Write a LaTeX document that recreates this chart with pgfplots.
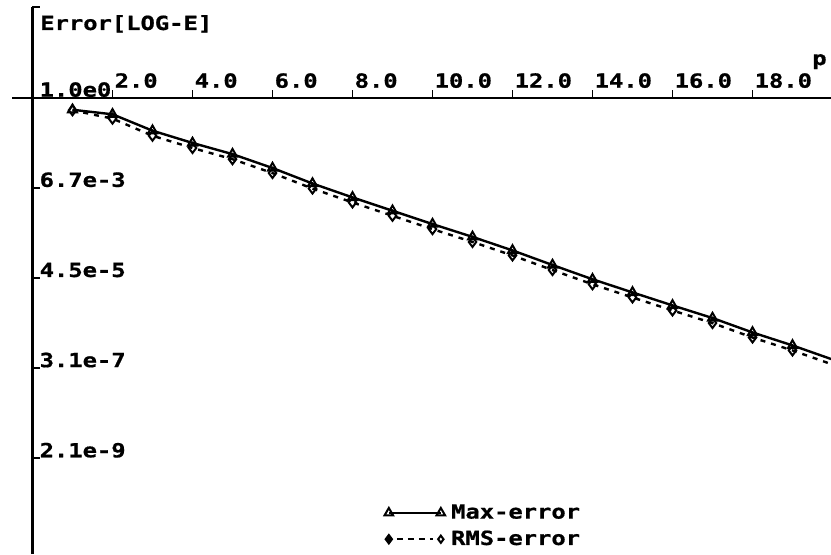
\documentclass[border=0pt]{standalone}
\usepackage{pgfplots}
\pgfplotsset{compat=1.18}
\usepackage{fontspec}
\setmainfont[FakeStretch=1.22, BoldFeatures={FakeBold=0.8}]{DejaVu Sans Mono}
\pgfplotsset{
  maxleg/.style={legend image code/.code={\draw[##1, mark size=5pt] plot coordinates {(0pt,0pt) (52pt,0pt)};}},
  rmsleg/.style={legend image code/.code={\draw[##1, mark=none, dash pattern=on 6pt off 5pt] (8pt,0pt) -- (44pt,0pt);
    \draw[##1, mark=diamond*, mark size=4.2pt] plot coordinates {(0pt,0pt)};
    \draw[##1, mark size=3.6pt] plot coordinates {(52pt,0pt)};}},
}
\begin{document}
\fontsize{19.5}{23}\selectfont\bfseries
\begin{tikzpicture}
\begin{axis}[
  x=40pt, y=18.03pt,
  xmin=-0.5, xmax=19.9625, ymin=-25.31, ymax=5.03,
  axis lines=middle,
  axis line style={-, line width=2.3pt},
  enlargelimits=false,
  clip mode=individual,
  tick align=inside,
  major tick length=8pt,
  tick style={line width=1.8pt, black},
  xtick={2,4,...,18},
  xticklabels={2.0,4.0,6.0,8.0,10.0,12.0,14.0,16.0,18.0},
  ytick={0,-5,-10,-15,-20},
  yticklabels={1.0e0,6.7e-3,4.5e-5,3.1e-7,2.1e-9},
  extra y ticks={5.03}, extra y tick labels={},
  hide obscured x ticks=false, hide obscured y ticks=false,
  xticklabel style={anchor=base west, inner sep=0pt, xshift=2pt, yshift=10pt},
  yticklabel style={anchor=base west, inner sep=0pt, xshift=7pt, yshift=1pt},
  legend style={draw=none, fill=none, inner sep=0pt, outer sep=0pt,
    at={(axis cs:8.8,-22.5)}, anchor=north west,
    nodes={inner sep=1pt}, row sep=7pt,
    /tikz/every odd column/.append style={column sep=5pt}},
  legend cell align=left,
]
\addplot[black, line width=2.4pt, mark=triangle, mark size=5.2pt,
  mark options={solid, line width=2pt}, maxleg]
  coordinates {(1,-0.67) (2,-0.92) (3,-1.83) (4,-2.51) (5,-3.13) (6,-3.90) (7,-4.76) (8,-5.53) (9,-6.27) (10,-7.01) (11,-7.72) (12,-8.47) (13,-9.28) (14,-10.07) (15,-10.80) (16,-11.52) (17,-12.22) (18,-13.02) (19,-13.74) (20,-14.52)};
\addlegendentry{Max-error}
\addplot[black, line width=2.4pt, dash pattern=on 5pt off 6pt, mark=diamond, mark size=5pt,
  mark options={solid, line width=2pt}, rmsleg]
  coordinates {(1,-0.70) (2,-1.16) (3,-2.11) (4,-2.79) (5,-3.41) (6,-4.18) (7,-5.04) (8,-5.81) (9,-6.55) (10,-7.29) (11,-8.00) (12,-8.75) (13,-9.56) (14,-10.35) (15,-11.08) (16,-11.80) (17,-12.50) (18,-13.30) (19,-14.02) (20,-14.80)};
\addlegendentry{RMS-error}
\node[anchor=base west, inner sep=0pt] at (axis cs:0.19,3.755) {Error[LOG-E]};
\node[anchor=base west, inner sep=0pt] at (axis cs:19.49,1.81) {p};
\coordinate (BL) at (axis cs:-0.8125,-25.31);
\coordinate (TR) at (axis cs:19.9625,5.419);
\end{axis}
\pgfresetboundingbox
\path[use as bounding box] (BL) rectangle (TR);
\end{tikzpicture}
\end{document}
